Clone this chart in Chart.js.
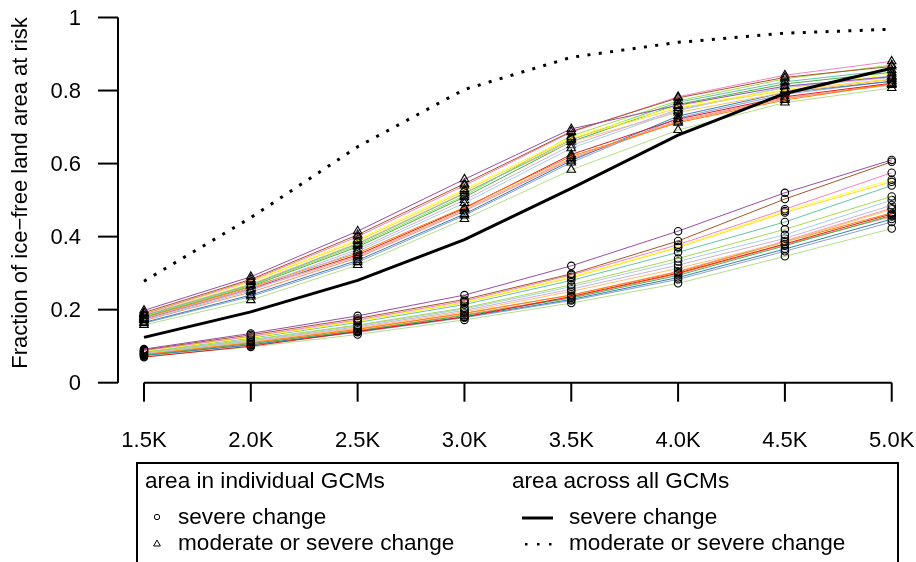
<!DOCTYPE html>
<html>
<head>
<meta charset="utf-8">
<script src="https://cdn.jsdelivr.net/npm/chart.js@4"></script>
<style>
html,body{margin:0;padding:0;background:#fff;}
#wrap{width:916px;height:562px;position:relative;}
</style>
</head>
<body>
<div id="wrap"><canvas id="c" width="916" height="562"></canvas></div>
<script>
// ---- data ----
const categories = ['1.5K','2.0K','2.5K','3.0K','3.5K','4.0K','4.5K','5.0K'];
const yTickValues = [0, 0.2, 0.4, 0.6, 0.8, 1];
const yTickLabels = ['0','0.2','0.4','0.6','0.8','1'];

const gcmColors = ['#984EA3','#A65628','#F781BF','#FFFF33','#FFD92F','#66C2A5','#A6D854','#A6CEE3','#CAB2D6',
                   '#FDBF6F','#FF7F00','#E41A1C','#FB9A99','#4DAF4A','#377EB8','#8DA0CB','#FC8D62','#B2DF8A'];

// severe change per GCM
const severeGCM = [
  [0.092,0.135,0.183,0.240,0.320,0.415,0.520,0.610],
  [0.090,0.131,0.176,0.228,0.298,0.388,0.503,0.605],
  [0.088,0.127,0.172,0.224,0.295,0.378,0.475,0.575],
  [0.086,0.124,0.168,0.221,0.290,0.372,0.470,0.556],
  [0.087,0.125,0.169,0.219,0.287,0.370,0.466,0.550],
  [0.085,0.122,0.165,0.214,0.280,0.357,0.440,0.540],
  [0.083,0.118,0.158,0.205,0.268,0.340,0.420,0.510],
  [0.082,0.116,0.156,0.202,0.263,0.332,0.405,0.500],
  [0.081,0.114,0.153,0.198,0.256,0.322,0.395,0.486],
  [0.080,0.112,0.150,0.194,0.250,0.313,0.385,0.475],
  [0.078,0.110,0.146,0.190,0.240,0.303,0.386,0.465],
  [0.070,0.100,0.140,0.180,0.236,0.300,0.380,0.462],
  [0.079,0.111,0.148,0.190,0.240,0.305,0.388,0.478],
  [0.076,0.107,0.142,0.184,0.232,0.294,0.375,0.458],
  [0.075,0.104,0.140,0.180,0.228,0.288,0.366,0.448],
  [0.074,0.103,0.138,0.178,0.225,0.283,0.360,0.440],
  [0.077,0.108,0.143,0.186,0.234,0.298,0.378,0.455],
  [0.072,0.098,0.132,0.172,0.218,0.272,0.346,0.422]
];
// moderate or severe change per GCM
const modSevGCM = [
  [0.198,0.290,0.415,0.557,0.695,0.760,0.812,0.838],
  [0.192,0.283,0.405,0.545,0.688,0.780,0.836,0.866],
  [0.188,0.280,0.400,0.540,0.686,0.783,0.842,0.880],
  [0.190,0.278,0.392,0.530,0.672,0.758,0.802,0.846],
  [0.189,0.276,0.388,0.525,0.668,0.752,0.800,0.832],
  [0.184,0.268,0.380,0.518,0.665,0.768,0.824,0.856],
  [0.182,0.266,0.376,0.512,0.676,0.772,0.832,0.870],
  [0.172,0.252,0.360,0.492,0.642,0.745,0.810,0.840],
  [0.176,0.258,0.365,0.500,0.650,0.748,0.808,0.836],
  [0.186,0.270,0.382,0.520,0.660,0.740,0.795,0.830],
  [0.178,0.262,0.355,0.480,0.620,0.712,0.774,0.818],
  [0.175,0.258,0.350,0.478,0.625,0.722,0.783,0.820],
  [0.174,0.255,0.346,0.474,0.615,0.718,0.780,0.815],
  [0.180,0.264,0.372,0.508,0.660,0.762,0.818,0.850],
  [0.165,0.240,0.335,0.462,0.608,0.730,0.795,0.825],
  [0.163,0.236,0.330,0.458,0.603,0.725,0.790,0.826],
  [0.170,0.248,0.342,0.470,0.612,0.715,0.778,0.818],
  [0.158,0.226,0.322,0.448,0.583,0.692,0.767,0.807]
];
// across all GCMs
const severeAll = [0.124,0.194,0.280,0.392,0.532,0.678,0.792,0.861];
const modSevAll = [0.278,0.452,0.646,0.803,0.891,0.932,0.957,0.968];

const FONT = '"Liberation Sans", Arial, Helvetica, sans-serif';
const toXY = arr => arr.map((v,i)=>({x:i,y:v}));

const datasets = [];
datasets.push({data:toXY(modSevAll), borderColor:'#000', borderWidth:3, borderDash:[3,8.4], pointRadius:0, tension:0, clip:false});
datasets.push({data:toXY(severeAll), borderColor:'#000', borderWidth:3, pointRadius:0, tension:0, clip:false});
gcmColors.forEach((col,g)=>{
  datasets.push({data:toXY(modSevGCM[g]), borderColor:col, borderWidth:1, pointStyle:'triangle', pointRadius:4.9,
    pointBorderColor:'#000', pointBackgroundColor:'rgba(0,0,0,0)', pointBorderWidth:1.1, tension:0, clip:false});
  datasets.push({data:toXY(severeGCM[g]), borderColor:col, borderWidth:1, pointStyle:'circle', pointRadius:3.7,
    pointBorderColor:'#000', pointBackgroundColor:'rgba(0,0,0,0)', pointBorderWidth:1.1, tension:0, clip:false});
});

const axesPlugin = {
  id:'rAxes',
  afterDraw(chart){
    const ctx = chart.ctx, xs = chart.scales.x, ys = chart.scales.y;
    ctx.save();
    ctx.strokeStyle='#000'; ctx.fillStyle='#000'; ctx.lineWidth=2; ctx.lineCap='butt';
    // y axis
    const ax = xs.left;
    ctx.beginPath();
    ctx.moveTo(ax, ys.getPixelForValue(yTickValues[0]));
    ctx.lineTo(ax, ys.getPixelForValue(yTickValues[yTickValues.length-1]));
    ctx.stroke();
    ctx.font = '22px '+FONT; ctx.textAlign='right'; ctx.textBaseline='middle';
    yTickValues.forEach((v,i)=>{
      const py = ys.getPixelForValue(v);
      ctx.beginPath(); ctx.moveTo(ax,py); ctx.lineTo(ax-20,py); ctx.stroke();
      ctx.fillText(yTickLabels[i], ax-37, py+1);
    });
    // x axis
    const ay = ys.getPixelForValue(0);
    ctx.beginPath();
    ctx.moveTo(xs.getPixelForValue(0), ay);
    ctx.lineTo(xs.getPixelForValue(categories.length-1), ay);
    ctx.stroke();
    ctx.textAlign='center';
    categories.forEach((lab,i)=>{
      const px = xs.getPixelForValue(i);
      ctx.beginPath(); ctx.moveTo(px,ay); ctx.lineTo(px,ay+19); ctx.stroke();
      ctx.fillText(lab, px, ay+58);
    });
    // y title
    ctx.save();
    ctx.translate(21, 193);
    ctx.rotate(-Math.PI/2);
    ctx.textAlign='center'; ctx.textBaseline='middle';
    ctx.fillText('Fraction of ice\u2212free land area at risk', 0, 0);
    ctx.restore();
    // legend
    ctx.lineWidth=2;
    ctx.strokeRect(137, 463, 761, 120);
    ctx.font='22.6px '+FONT; ctx.textAlign='left'; ctx.textBaseline='middle';
    ctx.fillText('area in individual GCMs', 145, 482);
    ctx.fillText('severe change', 178, 518);
    ctx.fillText('moderate or severe change', 178, 544);
    ctx.fillText('area across all GCMs', 512, 482);
    ctx.fillText('severe change', 569, 518);
    ctx.fillText('moderate or severe change', 569, 544);
    ctx.lineWidth=1;
    ctx.beginPath(); ctx.arc(157, 517, 2.7, 0, Math.PI*2); ctx.stroke();
    ctx.beginPath();
    ctx.moveTo(157, 540); ctx.lineTo(160.4, 546); ctx.lineTo(153.6, 546); ctx.closePath(); ctx.stroke();
    ctx.lineWidth=3;
    ctx.beginPath(); ctx.moveTo(522,518); ctx.lineTo(553,518); ctx.stroke();
    [526,538,550].forEach(x=>{ ctx.fillRect(x-1, 543, 2.5, 2.5); });
    ctx.restore();
  }
};

new Chart(document.getElementById('c'), {
  type:'line',
  data:{datasets},
  options:{
    responsive:false, animation:false, devicePixelRatio:1,
    layout:{padding:{left:118, right:13.6, top:17.5, bottom:179.3}},
    plugins:{legend:{display:false}, tooltip:{enabled:false}},
    scales:{
      x:{type:'linear', min:-0.2434, max:7.1, display:false},
      y:{type:'linear', min:0, max:1, display:false}
    }
  },
  plugins:[axesPlugin]
});
</script>
</body>
</html>
